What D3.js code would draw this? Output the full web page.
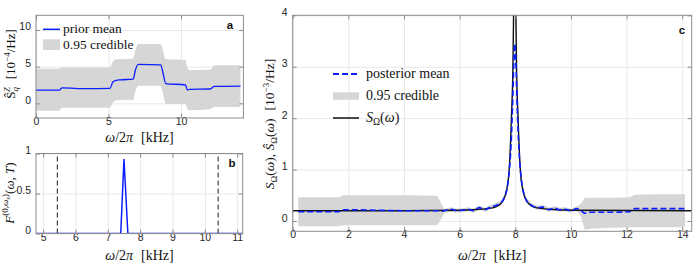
<!DOCTYPE html>
<html>
<head>
<meta charset="utf-8">
<script src="https://cdn.jsdelivr.net/npm/d3@7"></script>
<style>
  body { margin: 0; background: #fff; }
  svg { display: block; }
  .tick text { font-family: "Liberation Sans", Arial, sans-serif; font-size: 10.5px; fill: #262626; }
  .ax .tick line { stroke: #8c8c8c; }
  .grid .tick line { stroke: #e8e8e8; }
  .grid text { display: none; }
  .serif { font-family: "Liberation Serif", "DejaVu Serif", serif; fill: #111; }
  .tag { font-family: "Liberation Sans", Arial, sans-serif; font-weight: bold; font-size: 11.5px; fill: #111; }
</style>
</head>
<body>
<svg id="chart" width="697" height="264"></svg>
<script>
// panel a : prior S_q^Z
var priorFreq = [0.0, 1.6, 1.8, 3.5, 5.1, 5.3, 5.5, 5.8, 6.7, 6.85, 7.05, 8.6, 8.75, 8.95, 10.3, 10.45, 10.6, 12.0, 12.3, 14.1];
var priorMean = [1.8, 1.8, 2.1, 2.0, 2.05, 2.9, 3.1, 3.2, 3.3, 4.5, 5.3, 5.25, 4.2, 2.7, 2.5, 1.8, 1.9, 1.95, 2.3, 2.35];
var priorLow  = [-1.0, -1.0, -0.6, -0.6, -0.6, 0.1, 0.4, 0.45, 0.45, 1.6, 2.4, 2.4, 1.4, -0.1, -0.1, -0.8, -0.95, -0.8, -0.5, -0.5];
var priorHigh = [4.7, 4.7, 4.9, 4.9, 4.9, 5.7, 6.0, 6.0, 6.1, 7.2, 8.1, 8.1, 7.2, 6.0, 5.9, 4.8, 4.5, 4.6, 5.2, 5.2];

// panel b : filter function
var filterFreq = [4.78, 7.4, 7.5, 7.62, 11.17];
var filterVal  = [0, 0, 0.93, 0, 0];
var filterEdges = [5.44, 10.41];

// panel c : posterior
var postFreq = [0.2, 1.0, 1.65, 1.8, 3.0, 4.0, 5.2, 5.35, 5.45, 5.7, 5.9, 6.1, 6.3, 6.5, 6.7, 6.9, 7.1, 7.3, 7.5, 7.6, 7.7, 7.78, 7.85, 7.9, 7.95, 7.98,
                8.02, 8.07, 8.13, 8.2, 8.3, 8.4, 8.6, 8.8, 9.0, 9.2, 9.4, 9.6, 9.8, 10.0, 10.2, 10.35, 10.5, 10.7, 11.5, 12.1, 12.3, 13.0, 14.1];
var postMean = [0.18, 0.18, 0.18, 0.22, 0.21, 0.2, 0.2, 0.19, 0.2, 0.23, 0.2, 0.21, 0.23, 0.2, 0.26, 0.22, 0.27, 0.3, 0.36, 0.45, 0.62, 0.95, 1.5, 2.2, 3.1, 3.45,
                3.1, 2.2, 1.4, 0.9, 0.55, 0.4, 0.3, 0.26, 0.27, 0.22, 0.25, 0.22, 0.23, 0.2, 0.24, 0.21, 0.15, 0.17, 0.17, 0.18, 0.24, 0.24, 0.24];
var postLow  = [-0.1, -0.1, -0.1, -0.08, -0.08, -0.08, -0.08, 0.05, 0.16, 0.18, 0.16, 0.17, 0.19, 0.16, 0.22, 0.18, 0.23, 0.26, 0.31, 0.4, 0.56, 0.88, 1.42, 2.1, 3.0, 3.35,
                3.0, 2.1, 1.32, 0.83, 0.5, 0.35, 0.26, 0.22, 0.23, 0.18, 0.21, 0.18, 0.19, 0.16, 0.2, 0.1, -0.17, -0.15, -0.13, -0.12, -0.12, -0.12, -0.12];
var postHigh = [0.46, 0.46, 0.46, 0.5, 0.5, 0.5, 0.49, 0.32, 0.24, 0.27, 0.24, 0.25, 0.27, 0.24, 0.3, 0.26, 0.31, 0.35, 0.41, 0.51, 0.68, 1.02, 1.58, 2.3, 3.2, 3.55,
                3.2, 2.3, 1.48, 0.97, 0.6, 0.45, 0.34, 0.3, 0.31, 0.26, 0.29, 0.26, 0.27, 0.24, 0.28, 0.33, 0.45, 0.45, 0.45, 0.46, 0.51, 0.52, 0.52];
var trueFreq = [0, 4, 5.98, 6.48, 6.98, 7.28, 7.48, 7.58, 7.68, 7.78, 7.86, 7.915, 7.95, 7.98, 8.01, 8.045, 8.1, 8.18, 8.28, 8.38, 8.48, 8.68, 8.98, 9.48, 9.98, 14.34];
var trueVal  = [0.2, 0.2, 0.21, 0.22, 0.24, 0.27, 0.34, 0.42, 0.58, 1.0, 2.0, 3.0, 4.5, 6.0, 4.5, 3.0, 2.0, 1.0, 0.58, 0.42, 0.34, 0.27, 0.24, 0.22, 0.21, 0.2];

var svg = d3.select("#chart");
var BLUE = "#0a1eff", BAND = "#d6d6d6", SERIF = "Liberation Serif, DejaVu Serif, serif";

function zip(xs) {
  var cols = Array.prototype.slice.call(arguments, 1);
  return xs.map(function(v, i) { return [v].concat(cols.map(function(c) { return c[i]; })); });
}

function frame(id, x, y, xt, yt) {
  var r = x.range(), d = y.range();
  var w = r[1] - r[0], h = d[0] - d[1];
  var g = svg.append("g");
  g.append("g").attr("class", "grid").attr("transform", "translate(0," + d[0] + ")")
    .call(d3.axisBottom(x).tickValues(xt).tickSize(-h)).select(".domain").remove();
  g.append("g").attr("class", "grid").attr("transform", "translate(" + r[0] + ",0)")
    .call(d3.axisLeft(y).tickValues(yt).tickSize(-w)).select(".domain").remove();
  svg.append("clipPath").attr("id", id).append("rect")
    .attr("x", r[0]).attr("y", d[1]).attr("width", w).attr("height", h);
  return g;
}

function box(x, y, xt, yt, fmtY) {
  var r = x.range(), d = y.range();
  var g = svg.append("g").attr("class", "ax");
  g.append("g").attr("transform", "translate(0," + d[0] + ")")
    .call(d3.axisBottom(x).tickValues(xt).tickSize(-4).tickPadding(7).tickFormat(d3.format("d")))
    .select(".domain").remove();
  g.append("g").attr("transform", "translate(0," + d[1] + ")")
    .call(d3.axisTop(x).tickValues(xt).tickSize(-4).tickFormat(""))
    .select(".domain").remove();
  g.append("g").attr("transform", "translate(" + r[0] + ",0)")
    .call(d3.axisLeft(y).tickValues(yt).tickSize(-4).tickPadding(5).tickFormat(fmtY))
    .select(".domain").remove();
  g.append("g").attr("transform", "translate(" + r[1] + ",0)")
    .call(d3.axisRight(y).tickValues(yt).tickSize(-4).tickFormat(""))
    .select(".domain").remove();
  g.append("rect").attr("x", r[0]).attr("y", d[1]).attr("width", r[1] - r[0]).attr("height", d[0] - d[1])
    .attr("fill", "none").attr("stroke", "#8c8c8c").attr("stroke-width", 1);
  g.selectAll(".tick text").attr("dy", null);
  return g;
}

function serifText(x, y, size) {
  return svg.append("text").attr("class", "serif").attr("font-family", SERIF)
    .attr("x", x).attr("y", y).style("font-size", size + "px");
}

function xLabel(cx, cy) {
  var t = serifText(cx, cy, 14).attr("text-anchor", "middle");
  t.append("tspan").attr("font-style", "italic").text("ω");
  t.append("tspan").text("/2");
  t.append("tspan").attr("font-style", "italic").text("π");
  t.append("tspan").attr("dx", 8).text("[kHz]");
}

// ---------- panel a ----------
var xa = d3.scaleLinear().domain([0, 14.3]).range([36, 243.4]);
var ya = d3.scaleLinear().domain([-2, 12]).range([118, 15.3]);
frame("clipA", xa, ya, [0, 5, 10], [0, 5, 10]);
var dataA = zip(priorFreq, priorMean, priorLow, priorHigh);
svg.append("path").datum(dataA).attr("clip-path", "url(#clipA)")
  .attr("fill", BAND)
  .attr("d", d3.area().curve(d3.curveMonotoneX).x(function(d) { return xa(d[0]); })
    .y0(function(d) { return ya(d[2]); }).y1(function(d) { return ya(d[3]); }));
svg.append("path").datum(dataA).attr("clip-path", "url(#clipA)")
  .attr("fill", "none").attr("stroke", BLUE).attr("stroke-width", 1.3)
  .attr("d", d3.line().curve(d3.curveMonotoneX).x(function(d) { return xa(d[0]); }).y(function(d) { return ya(d[1]); }));
box(xa, ya, [0, 5, 10], [0, 5, 10], d3.format("d"));
xLabel(139.5, 142);

// legend a
svg.append("line").attr("x1", 43).attr("x2", 60).attr("y1", 29.3).attr("y2", 29.3).attr("stroke", BLUE).attr("stroke-width", 1.5);
serifText(63, 32.5, 13.5).text("prior mean");
svg.append("rect").attr("x", 43).attr("y", 39.3).attr("width", 17).attr("height", 10.7).attr("fill", BAND);
serifText(63, 48.5, 13.5).text("0.95 credible");
svg.append("text").attr("class", "tag").attr("x", 230).attr("y", 29).attr("text-anchor", "middle").text("a");

// y label a
var la = svg.append("text").attr("class", "serif").attr("font-family", SERIF)
  .attr("transform", "translate(15,64) rotate(-90)")
  .attr("text-anchor", "middle").style("font-size", "13px");
la.append("tspan").text("Ŝ");
la.append("tspan").attr("font-style", "italic").attr("font-size", "9px").attr("dy", 3).text("q");
la.append("tspan").attr("font-style", "italic").attr("font-size", "8.5px").attr("dx", -5).attr("dy", -8.5).text("Z");
la.append("tspan").attr("dx", 8).attr("dy", 5.5).text("[10");
la.append("tspan").attr("font-size", "9px").attr("dy", -5).text("−4");
la.append("tspan").attr("dy", 5).text("/Hz]");

// ---------- panel b ----------
var xb = d3.scaleLinear().domain([4.78, 11.17]).range([36, 242.7]);
var yb = d3.scaleLinear().domain([0, 1]).range([233.5, 153.5]);
frame("clipB", xb, yb, [5, 6, 7, 8, 9, 10, 11], [0, 0.5, 1]);
svg.selectAll(".edge").data(filterEdges).enter().append("line")
  .attr("x1", function(d) { return xb(d); }).attr("x2", function(d) { return xb(d); })
  .attr("y1", yb(0)).attr("y2", yb(1))
  .attr("stroke", "#333").attr("stroke-width", 1.1).attr("stroke-dasharray", "5,3");
svg.append("path").datum(zip(filterFreq, filterVal)).attr("clip-path", "url(#clipB)")
  .attr("fill", "none").attr("stroke", BLUE).attr("stroke-width", 1.5)
  .attr("d", d3.line().x(function(d) { return xb(d[0]); }).y(function(d) { return yb(d[1]); }));
box(xb, yb, [5, 6, 7, 8, 9, 10, 11], [0, 0.5, 1], function(d) { return d === 0.5 ? "0.5" : d3.format("d")(d); });
xLabel(139.5, 260);
svg.append("text").attr("class", "tag").attr("x", 232).attr("y", 167).attr("text-anchor", "middle").text("b");

var lb = svg.append("text").attr("class", "serif").attr("font-family", SERIF)
  .attr("transform", "translate(14,193) rotate(-90)")
  .attr("text-anchor", "middle").style("font-size", "13px");
lb.append("tspan").attr("font-style", "italic").text("F");
lb.append("tspan").attr("font-size", "9px").attr("dy", -6).text("(0,");
lb.append("tspan").attr("font-size", "9px").attr("font-style", "italic").text("ω");
lb.append("tspan").attr("font-size", "7px").attr("font-style", "italic").attr("dy", 2).text("s");
lb.append("tspan").attr("font-size", "9px").attr("dy", -2).text(")");
lb.append("tspan").attr("dy", 6).text("(");
lb.append("tspan").attr("font-style", "italic").text("ω");
lb.append("tspan").text(", ");
lb.append("tspan").attr("font-style", "italic").text("T");
lb.append("tspan").text(")");

// ---------- panel c ----------
var xc = d3.scaleLinear().domain([0, 14.34]).range([292.7, 691.7]);
var yc = d3.scaleLinear().domain([-0.2, 4]).range([231.3, 15.3]);
var xtc = [0, 2, 4, 6, 8, 10, 12, 14], ytc = [0, 1, 2, 3, 4];
frame("clipC", xc, yc, xtc, ytc);
var dataC = zip(postFreq, postMean, postLow, postHigh);
svg.append("path").datum(dataC).attr("clip-path", "url(#clipC)")
  .attr("fill", BAND)
  .attr("d", d3.area().x(function(d) { return xc(d[0]); })
    .y0(function(d) { return yc(d[2]); }).y1(function(d) { return yc(d[3]); }));
svg.append("path").datum(zip(trueFreq, trueVal)).attr("clip-path", "url(#clipC)")
  .attr("fill", "none").attr("stroke", "#111").attr("stroke-width", 1.4)
  .attr("d", d3.line().curve(d3.curveMonotoneX).x(function(d) { return xc(d[0]); }).y(function(d) { return yc(d[1]); }));
svg.append("path").datum(dataC).attr("clip-path", "url(#clipC)")
  .attr("fill", "none").attr("stroke", BLUE).attr("stroke-width", 1.6).attr("stroke-dasharray", "6,3")
  .attr("d", d3.line().curve(d3.curveMonotoneX).x(function(d) { return xc(d[0]); }).y(function(d) { return yc(d[1]); }));
box(xc, yc, xtc, ytc, d3.format("d"));
xLabel(492.2, 260);
svg.append("text").attr("class", "tag").attr("x", 682).attr("y", 34).attr("text-anchor", "middle").text("c");

// legend c
svg.append("line").attr("x1", 333).attr("x2", 359).attr("y1", 74).attr("y2", 74)
  .attr("stroke", BLUE).attr("stroke-width", 1.8).attr("stroke-dasharray", "6,3");
serifText(366, 77.5, 14).text("posterior mean");
svg.append("rect").attr("x", 333).attr("y", 92.3).attr("width", 26).attr("height", 7.5).attr("fill", BAND);
serifText(366, 100, 14).text("0.95 credible");
svg.append("line").attr("x1", 333).attr("x2", 359).attr("y1", 118).attr("y2", 118).attr("stroke", "#111").attr("stroke-width", 1.5);
var lc = serifText(366, 122, 14);
lc.append("tspan").attr("font-style", "italic").text("S");
lc.append("tspan").attr("font-size", "9.5px").attr("dy", 3).text("Ω");
lc.append("tspan").attr("dy", -3).text("(");
lc.append("tspan").attr("font-style", "italic").text("ω");
lc.append("tspan").text(")");

// y label c
var yl = svg.append("text").attr("class", "serif").attr("font-family", SERIF)
  .attr("transform", "translate(274,124) rotate(-90)")
  .attr("text-anchor", "middle").style("font-size", "13.5px");
yl.append("tspan").attr("font-style", "italic").text("S");
yl.append("tspan").attr("font-size", "9px").attr("dy", 3).text("Ω");
yl.append("tspan").attr("dy", -3).text("(");
yl.append("tspan").attr("font-style", "italic").text("ω");
yl.append("tspan").text("), ");
yl.append("tspan").attr("font-style", "italic").text("Ŝ");
yl.append("tspan").attr("font-size", "9px").attr("dy", 3).text("Ω");
yl.append("tspan").attr("dy", -3).text("(");
yl.append("tspan").attr("font-style", "italic").text("ω");
yl.append("tspan").text(")");
yl.append("tspan").attr("dx", 8).text("[10");
yl.append("tspan").attr("font-size", "9px").attr("dy", -5).text("−3");
yl.append("tspan").attr("dy", 5).text("/Hz]");
</script>
</body>
</html>
